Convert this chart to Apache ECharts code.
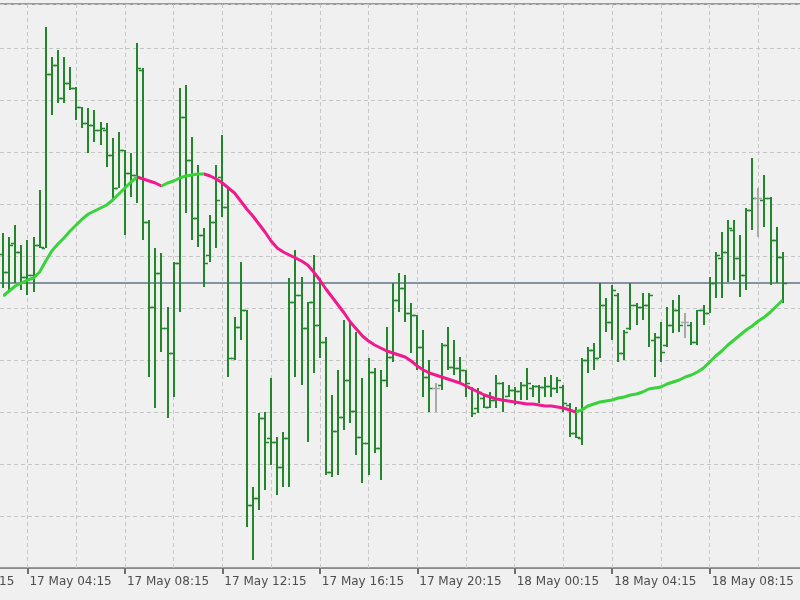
<!DOCTYPE html>
<html>
<head>
<meta charset="utf-8">
<script src="https://cdn.jsdelivr.net/npm/echarts@6/dist/echarts.min.js"></script>
<style>
  html, body { margin: 0; padding: 0; background: #f0f0f0; }
  #chart { width: 800px; height: 600px; }
</style>
</head>
<body>
<div id="chart"></div>
<script>
// 15 minute bars, values in points
const open = [314, 296, 325, 316, 291, 293, 323, 320, 494, 503, 470, 485, 480, 461, 445, 443, 438, 438, 413, 380,
  418, 395, 393, 498, 346, 261, 295, 240, 215, 305, 451, 408, 350, 333, 313, 346, 391, 361, 210, 241,
  258, 63, 70, 150, 130, 126, 101, 130, 266, 273, 240, 266, 243, 226, 96, 137, 151, 188, 157, 131,
  125, 196, 120, 188, 211, 268, 280, 255, 253, 221, 191, 180, 183, 223, 201, 200, 198, 180, 160, 170,
  161, 168, 185, 172, 178, 177, 183, 180, 182, 181, 182, 180, 181, 163, 135, 130, 208, 218, 210, 263,
  246, 273, 215, 240, 263, 261, 263, 228, 231, 223, 243, 258, 246, 243, 226, 258, 255, 285, 310, 316,
  338, 310, 293, 358, 370, 368, 370, 328, 311];
const high = [335, 331, 343, 323, 328, 331, 378, 541, 511, 518, 511, 501, 481, 461, 460, 458, 446, 445, 430, 436,
  418, 415, 525, 500, 348, 320, 315, 261, 306, 480, 483, 431, 403, 340, 353, 403, 433, 380, 251, 306,
  258, 81, 155, 156, 190, 131, 136, 290, 318, 291, 266, 313, 290, 231, 173, 198, 248, 246, 236, 190,
  210, 200, 198, 241, 285, 295, 293, 265, 253, 238, 208, 185, 225, 241, 228, 211, 198, 181, 180, 173,
  176, 193, 186, 183, 181, 186, 200, 183, 183, 191, 193, 191, 183, 165, 161, 210, 221, 225, 285, 270,
  283, 275, 238, 285, 265, 275, 275, 235, 246, 261, 268, 273, 255, 246, 258, 263, 291, 316, 336, 348,
  348, 333, 360, 410, 380, 393, 371, 341, 316];
const low = [280, 278, 285, 278, 273, 276, 320, 320, 453, 465, 465, 478, 448, 440, 415, 426, 423, 401, 368, 380,
  333, 371, 365, 328, 191, 160, 216, 150, 171, 256, 355, 328, 321, 281, 306, 320, 351, 191, 208, 228,
  41, 8, 58, 78, 103, 73, 81, 81, 191, 183, 126, 195, 210, 93, 91, 93, 138, 145, 113, 85,
  93, 115, 88, 181, 206, 256, 246, 215, 198, 171, 156, 156, 178, 198, 193, 185, 171, 151, 155, 160,
  160, 160, 156, 171, 163, 168, 168, 171, 165, 171, 171, 175, 156, 131, 130, 123, 195, 198, 210, 236,
  228, 206, 208, 238, 243, 248, 221, 191, 206, 221, 235, 236, 230, 223, 223, 243, 255, 270, 270, 286,
  288, 271, 278, 338, 331, 341, 283, 285, 265];
const close = [296, 323, 316, 291, 293, 323, 321, 494, 503, 470, 485, 480, 461, 445, 443, 438, 440, 413, 380, 418,
  395, 393, 500, 346, 261, 295, 240, 215, 305, 451, 408, 350, 333, 305, 346, 368, 361, 210, 241, 258,
  63, 70, 150, 126, 126, 101, 130, 266, 273, 240, 266, 243, 226, 96, 137, 151, 188, 157, 131, 125,
  196, 120, 188, 211, 268, 280, 255, 253, 221, 191, 180, 180, 223, 201, 200, 198, 185, 155, 176, 161,
  168, 185, 168, 178, 177, 183, 185, 182, 181, 182, 180, 188, 165, 135, 131, 208, 218, 210, 263, 246,
  278, 215, 236, 263, 261, 263, 273, 231, 216, 243, 258, 243, 246, 226, 258, 255, 285, 313, 316, 340,
  310, 293, 358, 370, 370, 370, 328, 311, 285];
// moving average as drawn on the chart
const ma = [272, 277, 282, 285, 288, 290, 296, 307, 317, 324, 330, 337, 343, 349, 354, 357, 360, 363, 368, 374,
  380, 386, 391, 389, 387, 385, 382, 385, 387, 390, 392, 393, 394, 394, 392, 389, 385, 380, 375, 367,
  359, 352, 344, 336, 327, 320, 316, 313, 310, 307, 303, 296, 288, 279, 271, 263, 255, 246, 239, 232,
  227, 223, 220, 217, 215, 213, 211, 207, 202, 198, 195, 193, 191, 189, 187, 185, 182, 179, 176, 173,
  171, 169, 168, 167, 166, 165, 164, 164, 163, 162, 162, 161, 160, 158, 156, 158, 162, 164, 166, 167,
  168, 170, 171, 173, 174, 176, 179, 180, 181, 184, 186, 188, 191, 193, 196, 200, 206, 212, 217, 223,
  228, 233, 238, 242, 247, 251, 256, 262, 268];

const LEAD = 12;   // earlier bars, only their time label peeks in on the left
const TAIL = 3;    // empty space right of the last bar
const MONTHS = ['Jan', 'Feb', 'Mar', 'Apr', 'May', 'Jun', 'Jul', 'Aug', 'Sep', 'Oct', 'Nov', 'Dec'];
const startTime = Date.UTC(2024, 4, 17, 0, 15);

const pad = (n) => (n < 10 ? '0' : '') + n;
const times = [];
for (let j = 0; j < LEAD + open.length + TAIL; j++) {
  const d = new Date(startTime + j * 15 * 60000);
  times.push(d.getUTCDate() + ' ' + MONTHS[d.getUTCMonth()] + ' ' + pad(d.getUTCHours()) + ':' + pad(d.getUTCMinutes()));
}

const BAR = '#22872a';
const DOJI = '#a9a9a9';
const UP = '#38d23a';
const DOWN = '#f01a8e';

const bars = open.map((o, i) => [i + LEAD, o, close[i], low[i], high[i]]);
const maData = ma.map((v, i) => [i + LEAD, v]);

// colour MA sections by slope
const pieces = [];
let dir = Math.sign(ma[1] - ma[0]) || 1;
let start = 0;
for (let i = 1; i < ma.length; i++) {
  const d = Math.sign(ma[i] - ma[i - 1]) || dir;
  if (d !== dir) {
    pieces.push({ gte: start + LEAD, lt: i - 1 + LEAD, color: dir > 0 ? UP : DOWN });
    start = i - 1;
    dir = d;
  }
}
pieces.push({ gte: start + LEAD, lte: ma.length - 1 + LEAD, color: dir > 0 ? UP : DOWN });

function renderBar(params, api) {
  const x = api.value(0);
  const o = api.coord([x, api.value(1)]);
  const c = api.coord([x, api.value(2)]);
  const l = api.coord([x, api.value(3)]);
  const h = api.coord([x, api.value(4)]);
  const px = Math.round(o[0]);
  const color = api.value(1) === api.value(2) ? DOJI : BAR;
  const stem = { stroke: color, lineWidth: 2 };
  const tick = { stroke: color, lineWidth: 1.5 };
  const oy = Math.round(o[1]) + 0.5;
  const cy = Math.round(c[1]) + 0.5;
  return {
    type: 'group',
    children: [
      { type: 'line', shape: { x1: px, y1: Math.round(h[1]), x2: px, y2: Math.round(l[1]) }, style: stem },
      { type: 'line', shape: { x1: px - 4, y1: oy, x2: px - 1, y2: oy }, style: tick },
      { type: 'line', shape: { x1: px + 1, y1: cy, x2: px + 4, y2: cy }, style: tick }
    ]
  };
}

const chart = echarts.init(document.getElementById('chart'));

chart.setOption({
  backgroundColor: '#f0f0f0',
  animation: false,
  grid: {
    left: -70,
    right: -1,
    top: 4,
    bottom: 32,
    show: true,
    borderColor: '#9a9a9a',
    borderWidth: 2,
    containLabel: false,
    outerBoundsMode: 'none'
  },
  xAxis: {
    type: 'category',
    data: times,
    boundaryGap: false,
    axisLine: { lineStyle: { color: '#8c8c8c', width: 1 } },
    axisTick: {
      interval: (idx) => idx % 16 === 0,
      length: 6,
      lineStyle: { color: '#6f6f6f', width: 2 }
    },
    axisLabel: {
      interval: (idx) => idx % 16 === 0,
      align: 'left',
      margin: 8,
      color: '#4d4d4d',
      fontFamily: 'DejaVu Sans',
      fontSize: 12,
      padding: [0, 0, 0, 2]
    },
    splitLine: {
      show: true,
      interval: (idx) => idx % 8 === 0,
      lineStyle: { color: '#c6c6c6', type: [4, 3], width: 1 }
    }
  },
  yAxis: {
    type: 'value',
    min: 0,
    max: 564,
    interval: 52,
    axisLine: { show: false },
    axisTick: { show: false },
    axisLabel: { show: false },
    splitLine: { lineStyle: { color: '#c6c6c6', type: [4, 3], width: 1 } }
  },
  visualMap: {
    show: false,
    type: 'piecewise',
    seriesIndex: 1,
    dimension: 0,
    pieces: pieces
  },
  series: [
    {
      type: 'custom',
      renderItem: renderBar,
      encode: { x: 0, y: [1, 2, 3, 4] },
      data: bars,
      z: 3
    },
    {
      type: 'line',
      data: maData,
      showSymbol: false,
      symbol: 'none',
      lineStyle: { width: 3 },
      z: 4,
      markLine: {
        silent: true,
        symbol: 'none',
        label: { show: false },
        lineStyle: { color: '#8493a3', width: 2, type: 'solid' },
        data: [{ yAxis: close[close.length - 1] }],
        z: 2
      }
    }
  ]
});
</script>
</body>
</html>
